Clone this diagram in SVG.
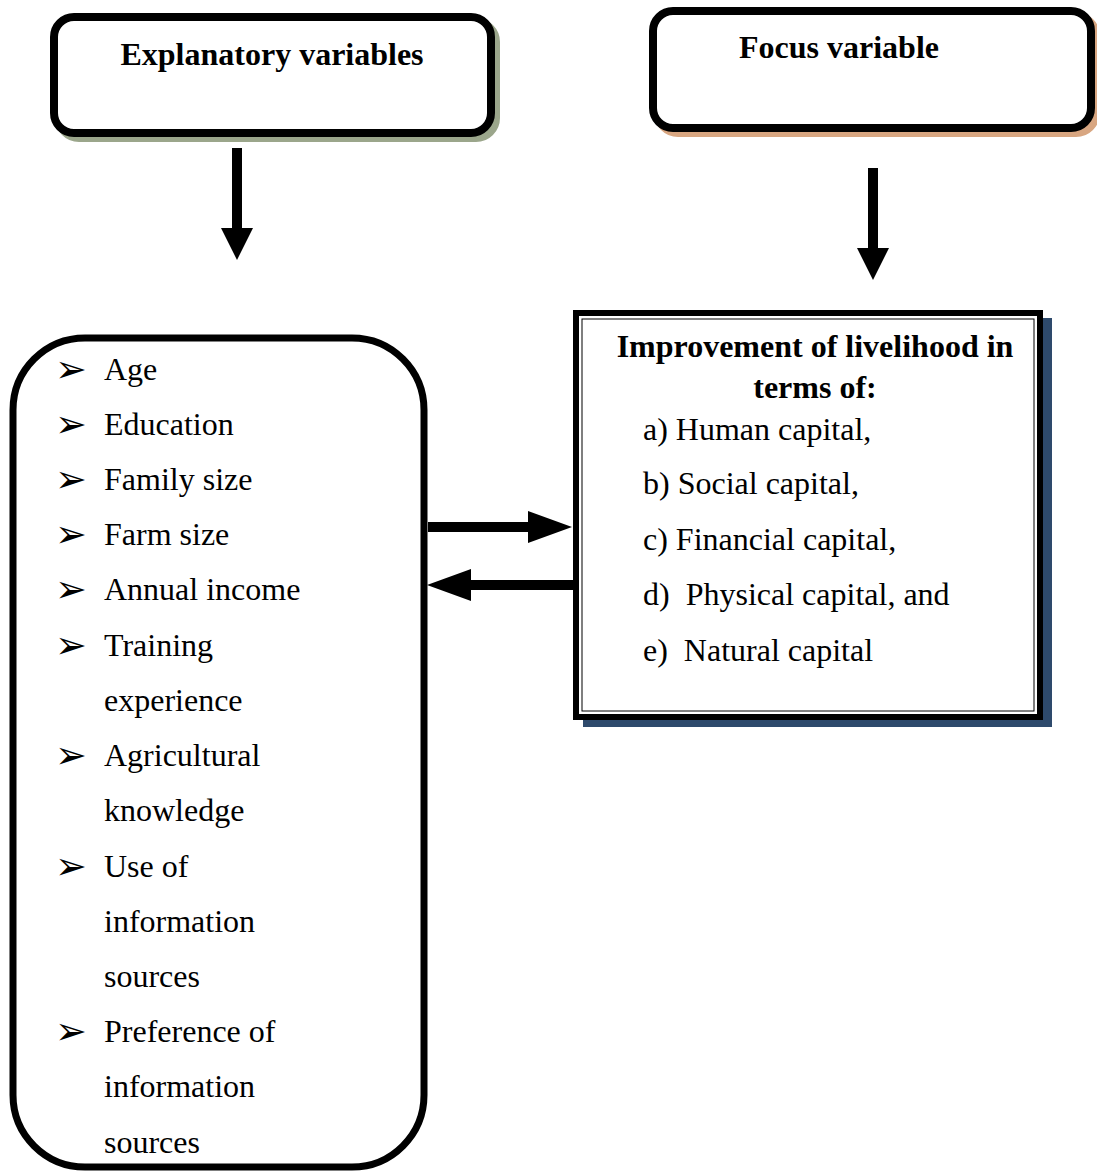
<svg xmlns="http://www.w3.org/2000/svg" width="1097" height="1173" viewBox="0 0 1097 1173">
<style>
.t{font-family:"Liberation Serif","Times New Roman",serif;font-size:32px;fill:#000}
.b{font-weight:bold}
.bul{font-family:"DejaVu Sans",sans-serif;font-size:38px;fill:#000}
.box{fill:#fff;stroke:#000;stroke-width:8}
</style>
<defs>
<marker id="ah" markerUnits="userSpaceOnUse" markerWidth="44" markerHeight="32" refX="0" refY="16" orient="auto" overflow="visible">
<path d="M0,0 L44,16 L0,32 Z" fill="#000"/>
</marker>
<marker id="ahv" markerUnits="userSpaceOnUse" markerWidth="32" markerHeight="32" refX="0" refY="16" orient="auto" overflow="visible">
<path d="M0,0 L32,16 L0,32 Z" fill="#000"/>
</marker>
</defs>
<rect width="1097" height="1173" fill="#fff"/>
<g id="explanatory-header">
<rect x="59" y="22" width="437" height="116" rx="20" fill="#9ba68b" stroke="#9ba68b" stroke-width="8"/>
<rect class="box" x="54" y="17" width="437" height="116" rx="20"/>
<text class="t b" x="272" y="65" text-anchor="middle">Explanatory variables</text>
</g>
<g id="focus-header">
<rect x="658" y="16" width="438" height="117" rx="20" fill="#d8a681" stroke="#d8a681" stroke-width="8"/>
<rect class="box" x="653" y="11" width="438" height="117" rx="20"/>
<text class="t b" x="839" y="58" text-anchor="middle">Focus variable</text>
</g>
<g id="explanatory-list">
<rect x="13" y="338" width="411" height="829" rx="72" fill="#fff" stroke="#000" stroke-width="7"/>
<g class="bul">
<text x="55" y="382">➢</text>
<text x="55" y="437">➢</text>
<text x="55" y="492">➢</text>
<text x="55" y="547">➢</text>
<text x="55" y="602">➢</text>
<text x="55" y="658">➢</text>
<text x="55" y="768">➢</text>
<text x="55" y="879">➢</text>
<text x="55" y="1044">➢</text>
</g>
<g class="t">
<text x="104" y="380">Age</text>
<text x="104" y="435">Education</text>
<text x="104" y="490">Family size</text>
<text x="104" y="545">Farm size</text>
<text x="104" y="600">Annual income</text>
<text x="104" y="656">Training</text>
<text x="104" y="711">experience</text>
<text x="104" y="766">Agricultural</text>
<text x="104" y="821">knowledge</text>
<text x="104" y="877">Use of</text>
<text x="104" y="932">information</text>
<text x="104" y="987">sources</text>
<text x="104" y="1042">Preference of</text>
<text x="104" y="1097">information</text>
<text x="104" y="1153">sources</text>
</g>
</g>
<g id="livelihood-box">
<rect x="583" y="318" width="469" height="409" fill="#2e4a6c"/>
<rect x="576" y="313" width="464" height="404" fill="#fff" stroke="#000" stroke-width="6"/>
<rect x="582" y="319" width="452" height="392" fill="none" stroke="#000" stroke-width="1"/>
<text class="t b" x="815" y="357" text-anchor="middle">Improvement of livelihood in</text>
<text class="t b" x="815" y="398" text-anchor="middle">terms of:</text>
<g class="t">
<text x="643" y="440">a) Human capital,</text>
<text x="643" y="494">b) Social capital,</text>
<text x="643" y="550">c) Financial capital,</text>
<text x="643" y="605" xml:space="preserve">d)  Physical capital, and</text>
<text x="643" y="661" xml:space="preserve">e)  Natural capital</text>
</g>
</g>
<g id="connectors" stroke="#000" stroke-width="10" fill="none">
<line x1="237" y1="148" x2="237" y2="228" marker-end="url(#ahv)"/>
<line x1="873" y1="168" x2="873" y2="248" marker-end="url(#ahv)"/>
<line x1="428" y1="527" x2="528" y2="527" marker-end="url(#ah)"/>
<line x1="573" y1="585" x2="471" y2="585" marker-end="url(#ah)"/>
</g>
</svg>
